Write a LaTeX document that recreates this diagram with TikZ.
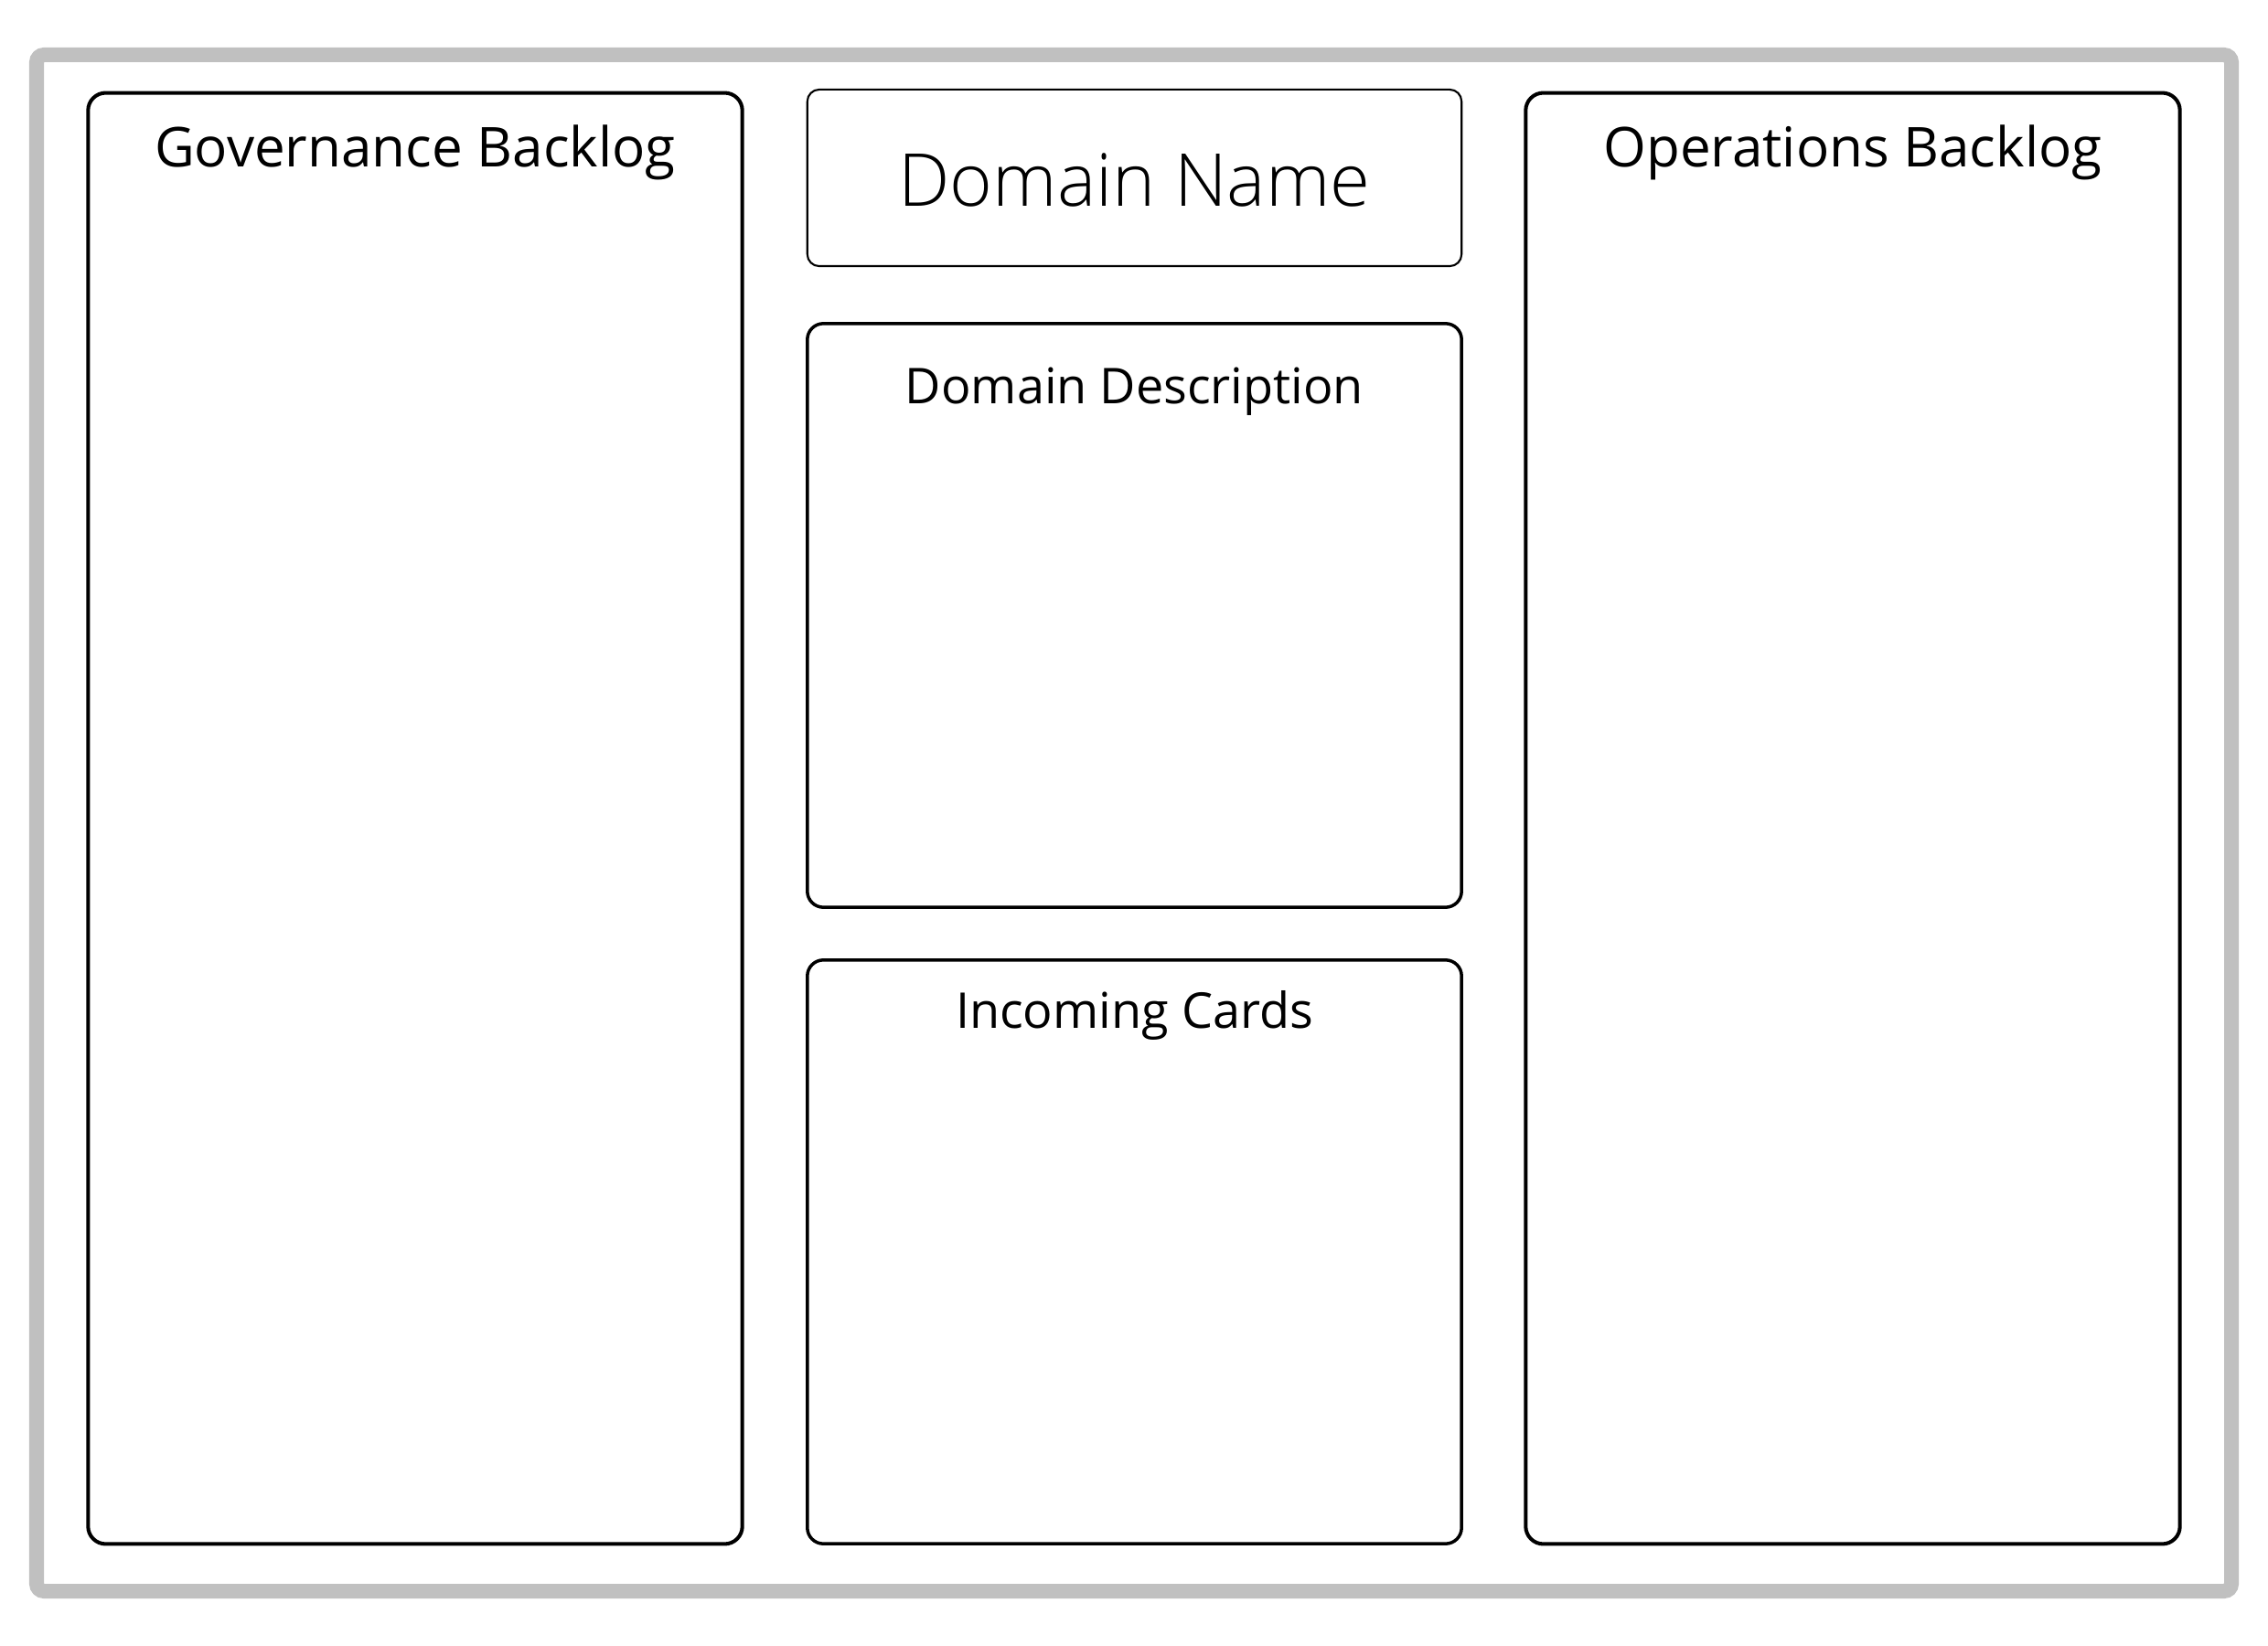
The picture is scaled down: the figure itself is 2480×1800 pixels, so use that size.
\documentclass[tikz,border=0pt]{standalone}
\usepackage{fontspec}
\setmainfont{Open Sans}
\newfontfamily\lightfont{Open Sans Light}
\usepackage{tikz}

\begin{document}
\begin{tikzpicture}[x=0.01cm,y=-0.01cm,
	panel/.style={draw,line width=1.15pt,rounded corners=5.5pt,inner sep=0pt,minimum width=7.15cm},
	title/.style={anchor=base,inner sep=0pt,font=\fontsize{17.1}{20}\selectfont},
	subtitle/.style={anchor=base,inner sep=0pt,font=\fontsize{15.35}{18}\selectfont}]
	
	\useasboundingbox (0,0) rectangle (2480,1800);
	\draw[line width=4.55pt,color={rgb,255:red,192;green,192;blue,192},rounded corners=2.3pt] (40,60) rectangle (2440,1740);
	
	\node[panel,minimum height=15.86cm] (gov) at (454,895) {};
	\node[panel,minimum height=15.86cm] (ops) at (2026,895) {};
	\node[panel,line width=0.6pt,rounded corners=3.7pt,minimum height=1.93cm] (name) at (1240.5,194.5) {};
	\node[panel,line width=1pt,rounded corners=5pt,minimum height=6.38cm] (desc) at (1240.5,673) {};
	\node[panel,line width=1pt,rounded corners=5pt,minimum height=6.38cm] (cards) at (1240.5,1369) {};
	
	\node[title] (govtitle) at (454,183) {Governance Backlog};
	\node[title] (opstitle) at (2026,183) {Operations Backlog};
	\node[anchor=base,inner sep=0pt,font=\lightfont\fontsize{22.7}{26}\selectfont] (nametitle) at (1240.5,226) {Domain Name};
	\node[subtitle] (desctitle) at (1240.5,442) {Domain Description};
	\node[subtitle] (cardstitle) at (1240.5,1124) {Incoming Cards};
	
\end{tikzpicture}
\end{document}
